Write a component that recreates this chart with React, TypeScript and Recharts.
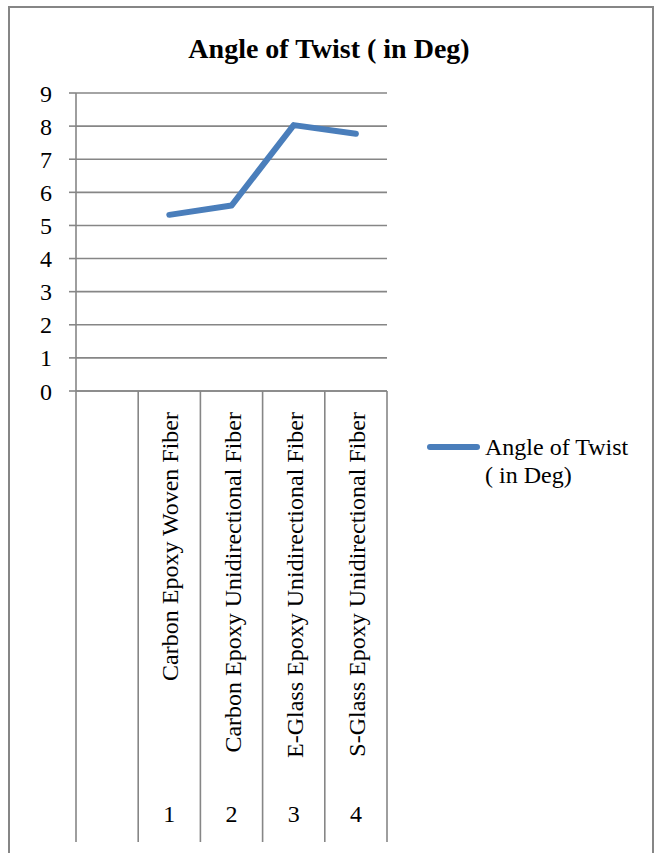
import { LineChart, Line, XAxis, YAxis, CartesianGrid, Legend } from "recharts";

const materials = [
  "",
  "Carbon Epoxy Woven Fiber",
  "Carbon Epoxy Unidirectional Fiber",
  "E-Glass Epoxy Unidirectional Fiber",
  "S-Glass Epoxy Unidirectional Fiber",
];
const sampleNos = ["", "1", "2", "3", "4"];
const angleOfTwist = [null, 5.32, 5.6, 8.03, 7.77];
const yTicks = [0, 1, 2, 3, 4, 5, 6, 7, 8, 9];

const seriesName = "Angle of Twist ( in Deg)";

const data = materials.map((material, i) => ({
  material,
  sample: sampleNos[i],
  angle: angleOfTwist[i],
}));

const FONT = "'Liberation Serif', 'Times New Roman', serif";
const GRID = "#868686";
const BLUE = "#4a7ebb";
const PLOT_WIDTH = 311;

// Two-level category labels with separators running down through the label area
function CategoryTick(props: any) {
  const { x, y, payload, index } = props;
  const band = PLOT_WIDTH / materials.length;
  const left = x - band / 2;
  return (
    <g>
      <line x1={left} x2={left} y1={y} y2={y + 451} stroke={GRID} strokeWidth={1.6} />
      {index === materials.length - 1 && (
        <line x1={left + band} x2={left + band} y1={y} y2={y + 451} stroke={GRID} strokeWidth={1.6} />
      )}
      <text
        x={x + 9}
        y={y + 21}
        transform={`rotate(-90 ${x + 9} ${y + 21})`}
        textAnchor="end"
        fontFamily={FONT}
        fontSize={24}
        fill="#000"
      >
        {payload.value}
      </text>
      <text x={x} y={y + 431} textAnchor="middle" fontFamily={FONT} fontSize={24} fill="#000">
        {sampleNos[index]}
      </text>
    </g>
  );
}

function LegendContent() {
  return (
    <div style={{ display: "flex", alignItems: "flex-start", fontFamily: FONT, fontSize: 24, lineHeight: "28px", color: "#000" }}>
      <div style={{ width: 53, height: 6, background: BLUE, borderRadius: 3, marginTop: 11, marginRight: 5 }} />
      <div style={{ width: 150 }}>{seriesName}</div>
    </div>
  );
}

export default function App() {
  return (
    <div style={{ position: "absolute", left: 0, top: 0, width: 658, height: 853, overflow: "hidden", background: "#fff" }}>
      <div
        style={{
          position: "absolute",
          left: 8,
          top: 6,
          width: 642,
          height: 900,
          border: `2px solid ${GRID}`,
        }}
      />
      <div
        style={{
          position: "absolute",
          left: 0,
          top: 35,
          width: 658,
          textAlign: "center",
          fontFamily: FONT,
          fontWeight: "bold",
          fontSize: 28,
          lineHeight: "28px",
        }}
      >
        {seriesName}
      </div>
      <div style={{ position: "absolute", left: 0, top: 0 }}>
        <LineChart width={658} height={853} data={data} margin={{ top: 93, right: 271, left: 0, bottom: 0 }}>
          <CartesianGrid vertical={false} stroke={GRID} strokeWidth={1.6} />
          <XAxis
            dataKey="material"
            scale="band"
            interval={0}
            height={462}
            tickSize={0}
            tickMargin={0}
            tickLine={false}
            axisLine={{ stroke: GRID, strokeWidth: 1.6 }}
            tick={<CategoryTick />}
          />
          <YAxis
            width={76}
            domain={[0, 9]}
            ticks={yTicks}
            interval={0}
            tickSize={7}
            tickMargin={17}
            axisLine={{ stroke: GRID, strokeWidth: 1.6 }}
            tickLine={{ stroke: GRID, strokeWidth: 1.6 }}
            tick={{ fontFamily: FONT, fontSize: 24, fill: "#000" }}
          />
          {/* middle/center placement keeps the legend from shrinking the plot */}
          <Legend
            layout="horizontal"
            verticalAlign="middle"
            align="center"
            content={<LegendContent />}
            wrapperStyle={{ position: "absolute", left: 427, top: 433, width: 220 }}
          />
          <Line
            dataKey="angle"
            name={seriesName}
            stroke={BLUE}
            strokeWidth={6}
            strokeLinecap="round"
            strokeLinejoin="round"
            dot={false}
            isAnimationActive={false}
          />
        </LineChart>
      </div>
    </div>
  );
}
